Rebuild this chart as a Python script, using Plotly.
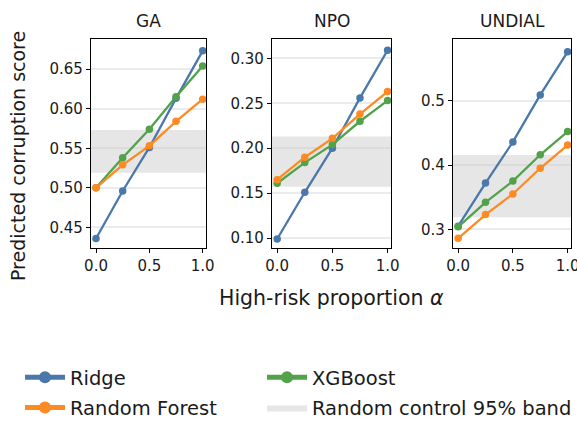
import plotly.graph_objects as go

alpha = [0.0, 0.25, 0.5, 0.75, 1.0]
panels = ["GA", "NPO", "UNDIAL"]

ridge = {
    "GA": [0.436, 0.496, 0.551, 0.613, 0.673],
    "NPO": [0.099, 0.151, 0.200, 0.256, 0.309],
    "UNDIAL": [0.305, 0.372, 0.436, 0.509, 0.576],
}
rforest = {
    "GA": [0.500, 0.529, 0.553, 0.584, 0.612],
    "NPO": [0.165, 0.190, 0.211, 0.238, 0.263],
    "UNDIAL": [0.286, 0.323, 0.355, 0.395, 0.431],
}
xgb = {
    "GA": [0.500, 0.538, 0.574, 0.615, 0.654],
    "NPO": [0.161, 0.184, 0.204, 0.230, 0.253],
    "UNDIAL": [0.304, 0.342, 0.375, 0.416, 0.452],
}
band_low = {"GA": 0.519, "NPO": 0.157, "UNDIAL": 0.319}
band_high = {"GA": 0.573, "NPO": 0.213, "UNDIAL": 0.4155}

y_ranges = {"GA": [0.424, 0.688], "NPO": [0.089, 0.3215], "UNDIAL": [0.271, 0.596]}
y_ticks = {
    "GA": [0.45, 0.50, 0.55, 0.60, 0.65],
    "NPO": [0.10, 0.15, 0.20, 0.25, 0.30],
    "UNDIAL": [0.3, 0.4, 0.5],
}
y_fmt = {"GA": ".2f", "NPO": ".2f", "UNDIAL": ".1f"}
x_ticks = [0.0, 0.5, 1.0]
x_range = [-0.047, 1.031]

colors = {"Ridge": "#4a78aa", "Random Forest": "#fd8a22", "XGBoost": "#52a24a"}
W, H = 577, 421
x_px = {"GA": (91, 206), "NPO": (272, 391), "UNDIAL": (453, 571)}
y_top, y_bot = 39, 248

fig = go.Figure()
FONT = "DejaVu Sans"
TXT = "#1a1a1a"

for i, p in enumerate(panels):
    ax = "" if i == 0 else str(i + 1)
    xa, ya = "x" + ax, "y" + ax
    fig.add_trace(go.Scatter(
        x=[x_range[0], x_range[1], x_range[1], x_range[0], x_range[0]],
        y=[band_low[p], band_low[p], band_high[p], band_high[p], band_low[p]],
        fill="toself", fillcolor="rgba(200,200,200,0.45)", mode="lines",
        line=dict(width=0), name="Random control 95% band",
        showlegend=(i == 0), legend="legend2", legendrank=2, legendgroup="band",
        hoverinfo="skip", xaxis=xa, yaxis=ya))
    for name, data, leg, rank in [("Ridge", ridge, "legend", 1), ("XGBoost", xgb, "legend2", 1),
                                  ("Random Forest", rforest, "legend", 2)]:
        fig.add_trace(go.Scatter(
            x=alpha, y=data[p], mode="lines+markers", name=name,
            line=dict(color=colors[name], width=2.3),
            marker=dict(color=colors[name], size=7.5, symbol="circle"),
            showlegend=(i == 0), legend=leg, legendrank=rank, legendgroup=name,
            cliponaxis=False, xaxis=xa, yaxis=ya))

leg_common = dict(orientation="v", yanchor="top", xanchor="left", traceorder="grouped",
                  tracegroupgap=2, font=dict(size=19.5, family=FONT, color=TXT),
                  itemwidth=40, itemsizing="constant", bgcolor="rgba(0,0,0,0)")
layout = dict(
    width=W, height=H, plot_bgcolor="white", paper_bgcolor="white",
    margin=dict(l=0, r=0, t=0, b=0, autoexpand=False),
    font=dict(family=FONT, size=15, color=TXT),
    showlegend=True,
    legend=dict(x=20 / W, y=1 - 358 / H, **leg_common),
    legend2=dict(x=262 / W, y=1 - 358 / H, **leg_common),
)
annotations = []
for i, p in enumerate(panels):
    ax = "" if i == 0 else str(i + 1)
    x0, x1 = x_px[p]
    layout["xaxis" + ax] = dict(
        domain=[x0 / W, x1 / W], range=x_range, tickvals=x_ticks,
        ticktext=["0.0", "0.5", "1.0"], ticks="outside", ticklen=4, tickwidth=1.2,
        tickcolor="black", showline=True, linecolor="black", linewidth=1.3,
        mirror=True, showgrid=False, zeroline=False, anchor="y" + ax, automargin=False,
        ticklabeloverflow="allow", tickfont=dict(size=15, family=FONT, color=TXT))
    layout["yaxis" + ax] = dict(
        domain=[1 - y_bot / H, 1 - y_top / H], range=y_ranges[p], tickvals=y_ticks[p],
        tickformat=y_fmt[p], ticks="outside", ticklen=4, tickwidth=1.2,
        tickcolor="black", showline=True, linecolor="black", linewidth=1.3,
        mirror=True, showgrid=True, gridcolor="#ebebeb", gridwidth=1.5,
        zeroline=False, anchor="x" + ax, automargin=False, ticklabeloverflow="allow",
        tickfont=dict(size=15, family=FONT, color=TXT))
    annotations.append(dict(text=p, x=(x0 + x1) / 2 / W, y=1 - 21 / H, xref="paper", yref="paper",
                            showarrow=False, font=dict(size=17, family=FONT, color=TXT),
                            xanchor="center", yanchor="middle"))
annotations.append(dict(text="Predicted corruption score", x=18 / W, y=1 - 156 / H,
                        xref="paper", yref="paper", showarrow=False, textangle=-90,
                        font=dict(size=19, family=FONT, color=TXT),
                        xanchor="center", yanchor="middle"))
annotations.append(dict(text="High-risk proportion <i>α</i>", x=331 / W, y=1 - 298 / H,
                        xref="paper", yref="paper", showarrow=False,
                        font=dict(size=20.5, family=FONT, color=TXT),
                        xanchor="center", yanchor="middle"))
layout["annotations"] = annotations
fig.update_layout(**layout)
fig.write_html("out.html", config={"displayModeBar": False},
               post_script="document.body.style.margin='0';document.body.style.overflow='hidden';")
